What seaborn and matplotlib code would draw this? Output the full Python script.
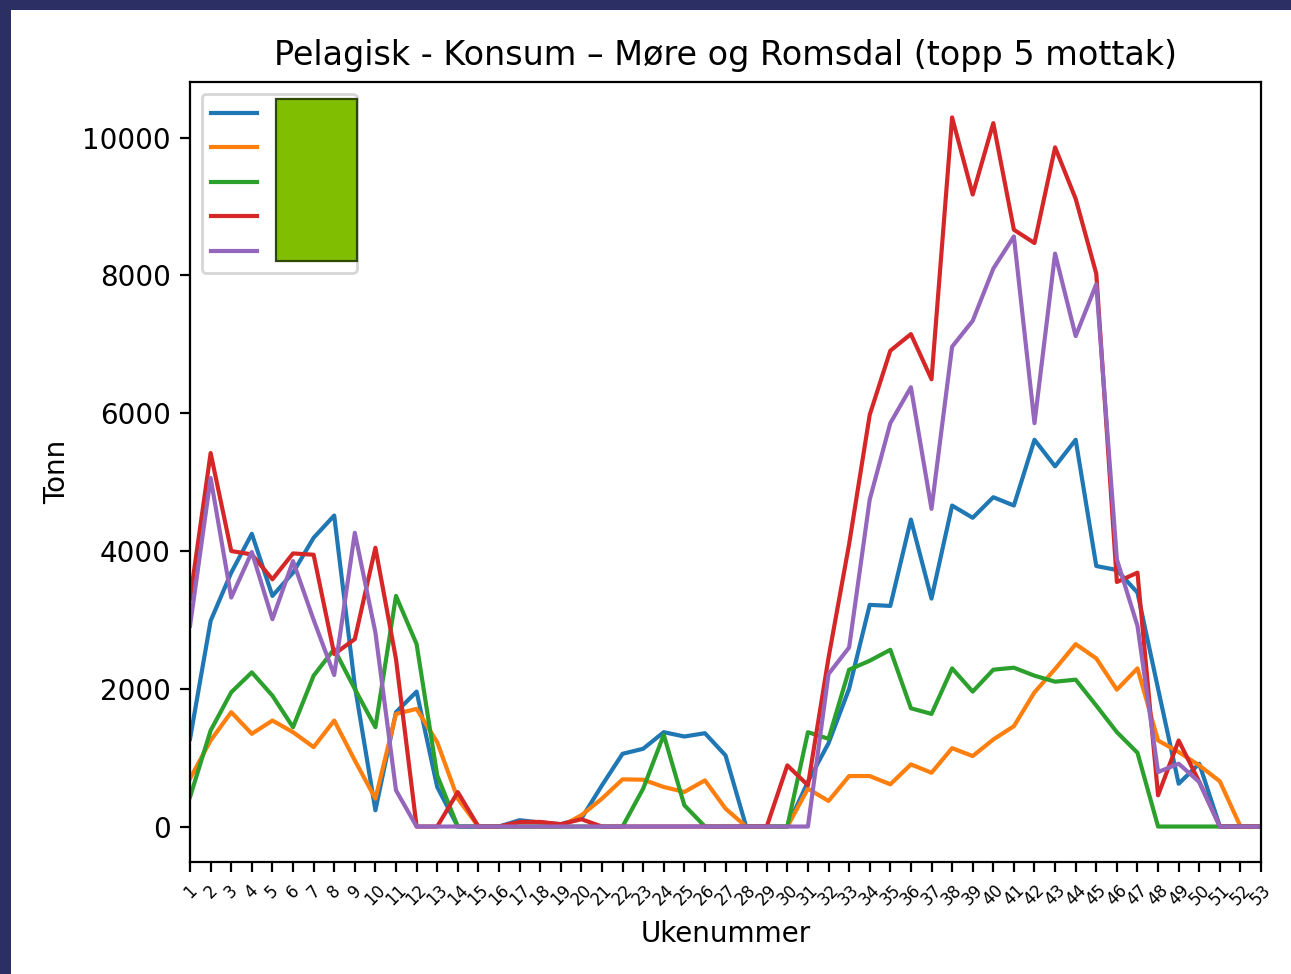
import pandas as pd
import matplotlib
matplotlib.use('Agg')
import matplotlib.pyplot as plt
from matplotlib.patches import Rectangle
import seaborn as sns

weeks = list(range(1, 54))
mottak = ['Mottak 1', 'Mottak 2', 'Mottak 3', 'Mottak 4', 'Mottak 5']

blue = [1273, 2986, 3686, 4250, 3348, 3686, 4192, 4515, 2045, 236,
        1660, 1959, 574, 0, 0, 0, 92, 58, 34, 116,
        598, 1056, 1129, 1370, 1307, 1355, 1032, 0, 0, 0,
        650, 1210, 2000, 3218, 3203, 4457, 3309, 4660, 4482, 4781,
        4660, 5615, 5229, 5615, 3782, 3724, 3396, 2000, 622, 912,
        0, 0, 0]
orange = [695, 1250, 1660, 1346, 1539, 1370, 1153, 1539, 960, 405,
          1635, 1708, 1225, 405, 0, 0, 0, 0, 0, 164,
          405, 685, 680, 574, 502, 670, 260, 0, 0, 0,
          550, 371, 733, 733, 613, 902, 781, 1138, 1023, 1264,
          1457, 1949, 2287, 2648, 2441, 1987, 2296, 1249, 1081, 888,
          656, 0, 0]
green = [429, 1394, 1949, 2238, 1900, 1442, 2190, 2576, 1997, 1442,
         3348, 2648, 743, 0, 0, 0, 0, 0, 0, 0,
         0, 0, 550, 1331, 309, 0, 0, 0, 0, 0,
         1370, 1274, 2277, 2407, 2566, 1717, 1635, 2296, 1959, 2277,
         2306, 2190, 2103, 2132, 1756, 1370, 1071, 0, 0, 0,
         0, 0, 0]
red = [3300, 5422, 4000, 3950, 3589, 3965, 3946, 2504, 2721, 4047,
       2431, 0, 0, 500, 0, 0, 67, 67, 34, 106,
       0, 0, 0, 0, 0, 0, 0, 0, 0, 888,
       598, 2450, 4100, 5977, 6908, 7149, 6493, 10294, 9175, 10212,
       8664, 8471, 9860, 9113, 8027, 3550, 3686, 453, 1249, 650,
       0, 0, 0]
purple = [2914, 5060, 3324, 3985, 3010, 3854, 3000, 2200, 4264, 2817,
          526, 0, 0, 0, 0, 0, 0, 0, 0, 0,
          0, 0, 0, 0, 0, 0, 0, 0, 0, 0,
          0, 2214, 2600, 4747, 5856, 6377, 4612, 6966, 7342, 8099,
          8567, 5856, 8317, 7120, 7873, 3878, 2914, 791, 912, 646,
          0, 0, 0]

series = [blue, orange, green, red, purple]
frames = []
for name, vals in zip(mottak, series):
    frames.append(pd.DataFrame({'Uke': weeks, 'Tonn': vals, 'Mottak': name}))
df = pd.concat(frames, ignore_index=True)

fig = plt.figure(figsize=(12.91 / 2, 9.74 / 2), dpi=200, facecolor='#2c2f63')
# white page inside the dark screenshot frame
page = Rectangle((11 / 1291, 0), 1 - 11 / 1291, 1 - 10 / 974,
                 transform=fig.transFigure, facecolor='white',
                 edgecolor='none', zorder=-10)
fig.add_artist(page)
ax = fig.add_axes([0.1472, 0.1150, 0.9768 - 0.1472, 0.9158 - 0.1150])

sns.lineplot(data=df, x='Uke', y='Tonn', hue='Mottak', palette='tab10',
             ax=ax, legend=False)

ax.set_xlim(1, 53)
ax.set_xticks(weeks)
ax.set_xticklabels([str(w) for w in weeks], rotation=45, fontsize=6)
ax.set_title('Pelagisk - Konsum – Møre og Romsdal (topp 5 mottak)')
ax.set_xlabel('Ukenummer')
ax.set_ylabel('Tonn')

ax.legend(ax.get_lines()[:5], [' ' * 10] * 5, loc='upper left', fontsize=8.3)
# redaction box over the legend labels
ax.add_patch(Rectangle((0.0803, 0.7705), 0.0756, 0.2077, transform=ax.transAxes,
                       facecolor='#7fbe00', edgecolor='#2f4a00', lw=0.8,
                       zorder=10))

fig.savefig('out.png', dpi=200)
